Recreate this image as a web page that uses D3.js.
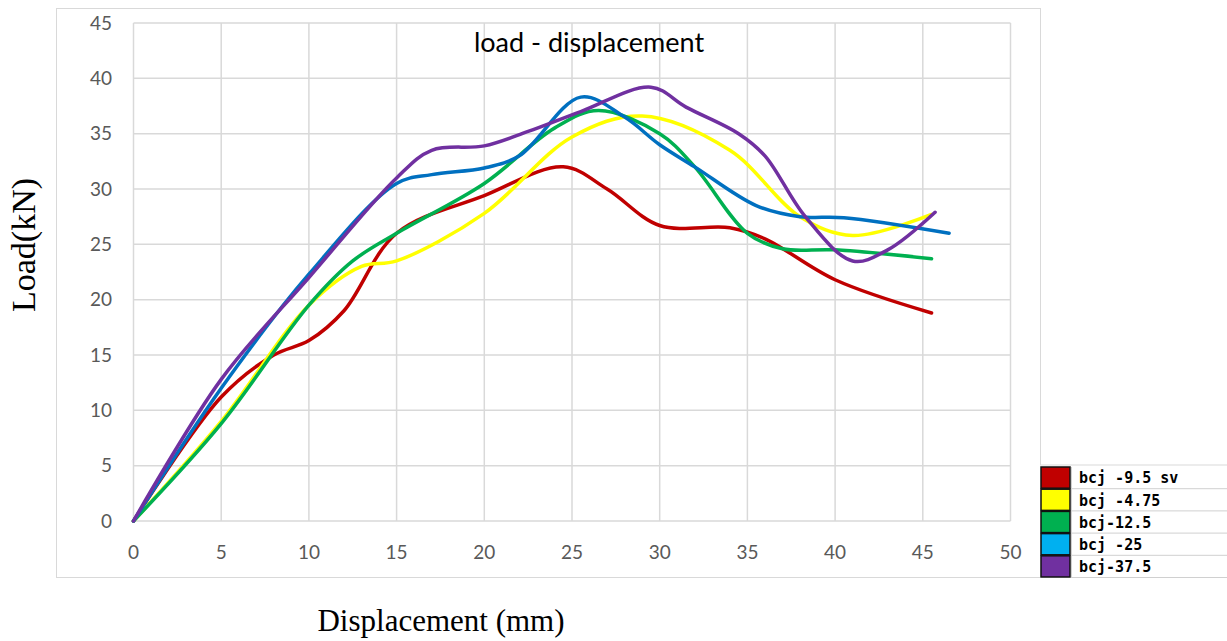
<!DOCTYPE html>
<html><head><meta charset="utf-8">
<script src="https://cdn.jsdelivr.net/npm/d3@7"></script>
<style>body{margin:0;background:#fff}</style>
</head><body>
<svg id="c" width="1227" height="641"></svg>
<script>
const seriesNames = ["bcj -9.5 sv","bcj -4.75","bcj-12.5","bcj -25","bcj-37.5"];
const lineColors = ["#C00000","#FFFF00","#00B050","#0070C0","#7030A0"];
const legendColors = ["#C00000","#FFFF00","#00B050","#00B0F0","#7030A0"];
const xTicks = [0,5,10,15,20,25,30,35,40,45,50];
const yTicks = [0,5,10,15,20,25,30,35,40,45];
const red = [[0,0],[5,11.2],[8,15],[10,16.3],[12,19],[15,26],[20,29.4],[24.5,32],[27,30],[30,26.7],[34,26.5],[36,25.5],[40,21.8],[45.5,18.8]];
const yellow = [[0,0],[5,9],[10,19.5],[13,23],[15,23.5],[20,27.8],[25,34.7],[29,36.6],[34,33.5],[38,27.5],[41,25.8],[45.5,27.7]];
const green = [[0,0],[5,8.8],[10,19.5],[12.5,23.5],[15,26],[20,30.5],[24,35.5],[26.5,37.1],[30,35],[32,32],[35,26],[37,24.6],[40,24.5],[45.5,23.7]];
const blue = [[0,0],[5,12],[10,22.3],[15,30.5],[17,31.3],[20,31.9],[22,33],[25.5,38.3],[28,36.5],[30,34],[32,32],[35.5,28.5],[38,27.5],[40.5,27.4],[46.5,26]];
const purple = [[0,0],[5,12.8],[10,22],[15,31],[17,33.5],[20,33.9],[22.5,35.2],[25.5,37],[29.5,39.2],[31.5,37.4],[34.5,35],[36,33],[38.3,27.5],[41,23.5],[43,24.5],[45.7,27.9]];
const allSeries = [red,yellow,green,blue,purple];

const svg = d3.select("#c");
const x = d3.scaleLinear().domain([0,50]).range([133.5,1010.5]);
const y = d3.scaleLinear().domain([0,45]).range([521,23]);

// outer chart border
svg.append("rect").attr("x",56.5).attr("y",8.5).attr("width",984).attr("height",569)
  .attr("fill","none").attr("stroke","#d9d9d9").attr("stroke-width",1);

// grid
svg.append("g").selectAll("line").data(yTicks).join("line")
  .attr("x1",x(0)).attr("x2",x(50)).attr("y1",d=>y(d)).attr("y2",d=>y(d))
  .attr("stroke","#d9d9d9").attr("stroke-width",1.5);
svg.append("g").selectAll("line").data(xTicks).join("line")
  .attr("x1",d=>x(d)).attr("x2",d=>x(d)).attr("y1",y(0)).attr("y2",y(45))
  .attr("stroke","#d9d9d9").attr("stroke-width",1.5);

// tick labels
svg.append("g").selectAll("text").data(yTicks).join("text")
  .attr("x",112).attr("y",d=>y(d)).attr("dy","0.35em").attr("text-anchor","end")
  .attr("font-family","Lato, 'Liberation Sans', sans-serif").attr("font-size",19).attr("fill","#595959")
  .text(d=>d);
svg.append("g").selectAll("text").data(xTicks).join("text")
  .attr("x",d=>x(d)).attr("y",552).attr("dy","0.35em").attr("text-anchor","middle")
  .attr("font-family","Lato, 'Liberation Sans', sans-serif").attr("font-size",19).attr("fill","#595959")
  .text(d=>d);

// title
svg.append("text").attr("x",589).attr("y",43).attr("dy","0.35em").attr("text-anchor","middle")
  .attr("font-family","Lato, 'Liberation Sans', sans-serif").attr("font-size",27).attr("fill","#000")
  .text("load - displacement");

// axis titles
svg.append("text").attr("transform","translate(23,245) rotate(-90)").attr("dy","0.35em").attr("text-anchor","middle")
  .attr("font-family","'Liberation Serif', serif").attr("font-size",34).text("Load(kN)");
svg.append("text").attr("x",441).attr("y",620).attr("dy","0.35em").attr("text-anchor","middle")
  .attr("font-family","'Liberation Serif', serif").attr("font-size",31).text("Displacement (mm)");

// lines
const line = d3.line().x(d=>x(d[0])).y(d=>y(d[1])).curve(d3.curveCatmullRom.alpha(0.5));
svg.append("g").selectAll("path").data(allSeries).join("path")
  .attr("d",line).attr("fill","none").attr("stroke",(d,i)=>lineColors[i])
  .attr("stroke-width",3.5).attr("stroke-linecap","round").attr("stroke-linejoin","round");

// legend
const lg = svg.append("g");
const ly0 = 467, rh = 22.2;
lg.append("rect").attr("x",1040).attr("y",ly0-2).attr("width",187).attr("height",rh*5+3).attr("fill","#fff");
lg.append("line").attr("x1",1040).attr("x2",1227).attr("y1",ly0-2).attr("y2",ly0-2).attr("stroke","#d9d9d9");
seriesNames.forEach((n,i)=>{
  const yy = ly0 + i*rh;
  lg.append("rect").attr("x",1041).attr("y",yy).attr("width",29).attr("height",rh-1)
    .attr("fill",legendColors[i]).attr("stroke","#111").attr("stroke-width",1.5);
  lg.append("line").attr("x1",1071).attr("x2",1227).attr("y1",yy+rh-0.5).attr("y2",yy+rh-0.5).attr("stroke","#d0d0d0");
  lg.append("text").attr("x",1079).attr("y",yy+rh/2).attr("dy","0.35em")
    .attr("font-family","'DejaVu Sans Mono', monospace").attr("font-weight","bold").attr("font-size",15)
    .attr("fill","#000").text(n);
});
lg.append("line").attr("x1",1071.5).attr("x2",1071.5).attr("y1",ly0).attr("y2",ly0+rh*5).attr("stroke","#d0d0d0");
</script>
</body></html>
